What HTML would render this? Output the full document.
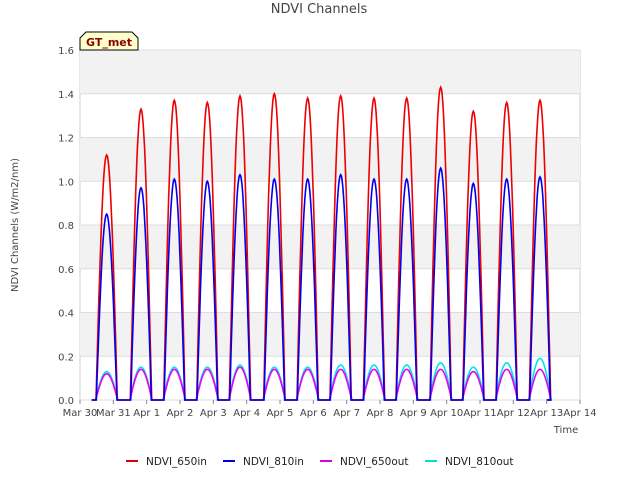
<!DOCTYPE html>
<html><head><meta charset="utf-8"><style>
body{margin:0;background:#fff;font-family:"Liberation Sans","DejaVu Sans",sans-serif}
svg text{font-family:"DejaVu Sans","Liberation Sans",sans-serif}
</style></head><body>
<svg id="c" width="640" height="480" xmlns="http://www.w3.org/2000/svg">
<rect width="640" height="480" fill="#fff"/>
<text x="319" y="13" text-anchor="middle" font-size="13" fill="#444">NDVI Channels</text>
<g id="bands"></g><g id="grid"></g><g id="series"></g><g id="axes"></g>
<text x="18" y="225" transform="rotate(-90 18 225)" text-anchor="middle" font-size="10" fill="#444">NDVI Channels (W/m2/nm)</text>
<text x="566" y="433" text-anchor="middle" font-size="10" fill="#444">Time</text>
<g><path d="M80,50 L80,38 L86,32 L132,32 L138,38 L138,50 Z" fill="#ffffcc" stroke="#000"/><text x="109" y="46" text-anchor="middle" font-size="11" font-weight="bold" fill="#8b0000">GT_met</text></g>
<g id="legend"></g>
</svg>
<script>
const dayLabels=["Mar 30","Mar 31","Apr 1","Apr 2","Apr 3","Apr 4","Apr 5","Apr 6","Apr 7","Apr 8","Apr 9","Apr 10","Apr 11","Apr 12","Apr 13","Apr 14"];
const yTicks=[0.0,0.2,0.4,0.6,0.8,1.0,1.2,1.4,1.6];
const peakDays=[0.8,1.83,2.83,3.82,4.8,5.83,6.83,7.82,8.82,9.8,10.82,11.8,12.8,13.8];
const red650in=[1.12,1.33,1.37,1.36,1.39,1.40,1.38,1.39,1.38,1.38,1.43,1.32,1.36,1.37];
const blue810in=[0.85,0.97,1.01,1.00,1.03,1.01,1.01,1.03,1.01,1.01,1.06,0.99,1.01,1.02];
const mag650out=[0.12,0.14,0.14,0.14,0.15,0.14,0.14,0.14,0.14,0.14,0.14,0.13,0.14,0.14];
const cyan810out=[0.13,0.15,0.15,0.15,0.16,0.15,0.15,0.16,0.16,0.16,0.17,0.15,0.17,0.19];
const NS="http://www.w3.org/2000/svg";
const X0=80,X1=580,Y0=400,Y1=50;
const xs=d=>X0+(d/15)*(X1-X0);
const ys=v=>Y0-(v/1.6)*(Y0-Y1);
function mk(t,a,p){const e=document.createElementNS(NS,t);for(const k in a)e.setAttribute(k,a[k]);p.appendChild(e);return e;}
const bands=document.getElementById('bands'),grid=document.getElementById('grid'),axes=document.getElementById('axes'),ser=document.getElementById('series'),leg=document.getElementById('legend');
mk('rect',{x:X0,y:Y1,width:X1-X0,height:Y0-Y1,fill:'#fff',stroke:'#ccc'},bands);
for(let i=0;i<yTicks.length-1;i++){if(i%2==1){const r=mk('rect',{x:X0,y:ys(yTicks[i+1]),width:X1-X0,height:ys(yTicks[i])-ys(yTicks[i+1]),fill:'#f2f2f2'},bands);

}}
yTicks.forEach(v=>{mk('line',{x1:X0,x2:X1,y1:ys(v),y2:ys(v),stroke:'#ddd'},grid);
const t=mk('text',{x:X0-6,y:ys(v)+4,'text-anchor':'end','font-size':10,fill:'#444'},axes);t.textContent=v.toFixed(1);

});
dayLabels.forEach((l,i)=>{mk('line',{x1:xs(i),x2:xs(i),y1:Y0,y2:Y0+4,stroke:'#888'},axes);
const t=mk('text',{x:xs(i),y:Y0+16,'text-anchor':'middle','font-size':10,fill:'#444'},axes);t.textContent=l;

});
function series(vals,color,name,hw){let pts=[];pts.push([xs(0.35),ys(0)]);
peakDays.forEach((c,i)=>{pts.push([xs(c-hw),ys(0)]);for(let k=0;k<=30;k++){const f=k/30;const d=c-hw+2*hw*f;const s=Math.sin(Math.PI*f);pts.push([xs(d),ys(vals[i]*s)]);}});
pts.push([xs(14),ys(0)]);
const p=mk('polyline',{points:pts.map(q=>q[0].toFixed(1)+','+q[1].toFixed(1)).join(' '),fill:'none',stroke:color,'stroke-width':1.6},ser);

}
series(cyan810out,'#00e5ee','series-ndvi-810out',0.34);
series(mag650out,'#ee00ee','series-ndvi-650out',0.33);
series(red650in,'#ee0000','series-ndvi-650in',0.32);
series(blue810in,'#0000ee','series-ndvi-810in',0.31);
const L=[['NDVI_650in','#dd0000',126],['NDVI_810in','#0000dd',223],['NDVI_650out','#dd00dd',320],['NDVI_810out','#00dddd',425]];
L.forEach(e=>{const g=mk('g',{},leg);
mk('line',{x1:e[2],x2:e[2]+12,y1:461,y2:461,stroke:e[1],'stroke-width':2},g);
const t=mk('text',{x:e[2]+20,y:465,'font-size':10.5,fill:'#222'},g);t.textContent=e[0];});
</script>
</body></html>
